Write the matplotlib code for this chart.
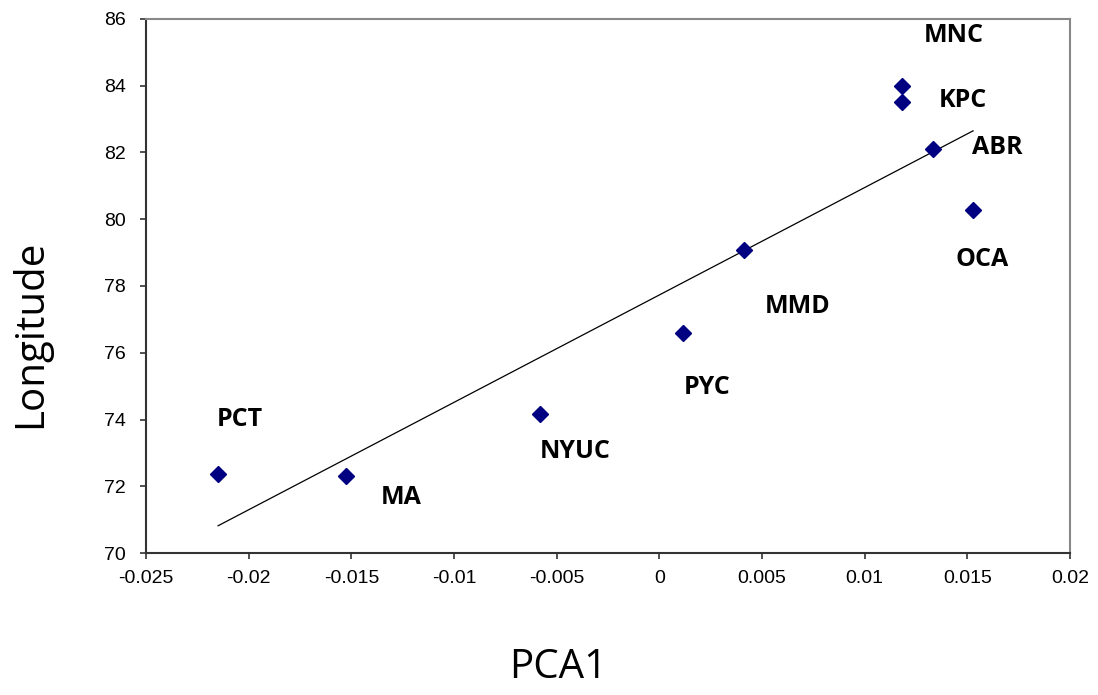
import numpy as np
import matplotlib.pyplot as plt

# site codes with PCA1 score and longitude
sites = ['PCT', 'MA', 'NYUC', 'PYC', 'MMD', 'MNC', 'KPC', 'ABR', 'OCA']
pca1 = [-0.02149, -0.01526, -0.00581, 0.00115, 0.00412, 0.01182, 0.01182, 0.01333, 0.01528]
longitude = [72.37, 72.31, 74.16, 76.59, 79.08, 84.00, 83.51, 82.10, 80.28]

# label offsets from each point, in pixels
label_offsets = {
    'PCT': (22, 54), 'MA': (55, -22), 'NYUC': (35, -37), 'PYC': (24, -54),
    'MMD': (54, -57), 'MNC': (52, 50), 'KPC': (61, 2), 'ABR': (64, 2), 'OCA': (9, -50),
}

fig = plt.figure(figsize=(10.98, 6.95), dpi=100)
ax = fig.add_axes([0.133, 0.2043, 0.8415, 0.7684])

ax.plot(pca1, longitude, linestyle='none', marker='D', markersize=8,
        color='#000080', zorder=3)

# linear trend line across the data range
slope, icpt = np.polyfit(pca1, longitude, 1)
xs = np.array([min(pca1), max(pca1)])
ax.plot(xs, slope * xs + icpt, color='black', linewidth=0.9, zorder=2)

for name, x, y in zip(sites, pca1, longitude):
    ax.annotate(name, (x, y), xytext=label_offsets[name], textcoords='offset pixels',
                ha='center', va='center', fontsize=18, fontweight='bold',
                family='Open Sans', color='black')

ax.set_xlim(-0.025, 0.02)
ax.set_ylim(70, 86)
ax.set_xticks(np.arange(-0.025, 0.0201, 0.005))
ax.set_xticklabels(['-0.025', '-0.02', '-0.015', '-0.01', '-0.005', '0', '0.005', '0.01', '0.015', '0.02'])
ax.set_yticks(np.arange(70, 87, 2))

for lab in ax.get_xticklabels() + ax.get_yticklabels():
    lab.set_family('Liberation Sans')
    lab.set_fontsize(14)

ax.tick_params(axis='y', direction='out', length=4.5, width=1.2, color='#333333', pad=10)
ax.tick_params(axis='x', direction='out', length=4.5, width=1.2, color='#333333', pad=8)

ax.spines['left'].set_color('#333333')
ax.spines['bottom'].set_color('#333333')
ax.spines['left'].set_linewidth(1.5)
ax.spines['bottom'].set_linewidth(1.5)
ax.spines['top'].set_color('#888888')
ax.spines['right'].set_color('#888888')
ax.spines['top'].set_linewidth(1.5)
ax.spines['right'].set_linewidth(1.5)

fig.text(558 / 1098, 1 - 668 / 695, 'PCA1', ha='center', va='center',
         fontsize=29, family='Open Sans')
fig.text(31 / 1098, 1 - 334 / 695, 'Longitude', ha='center', va='center',
         rotation=90, fontsize=29, family='Open Sans')

fig.savefig('out.png', dpi=100)
